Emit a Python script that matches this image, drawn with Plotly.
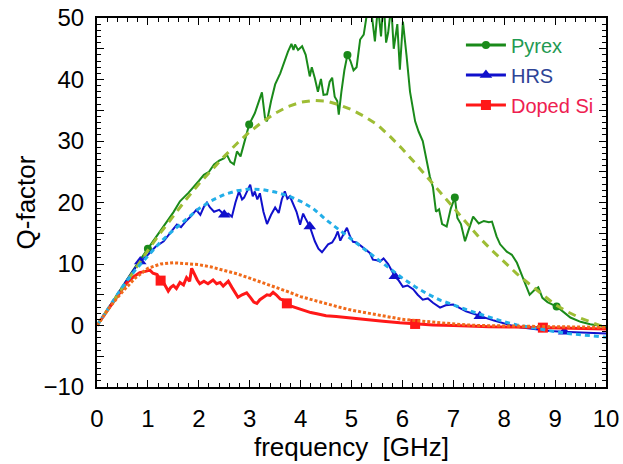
import plotly.graph_objects as go

# ---------------- data ----------------
pyrex_f = [0, 0.25, 0.5, 0.75, 1.0, 1.25, 1.5, 1.63, 1.8, 2.0, 2.1, 2.2, 2.3, 2.4, 2.5, 2.55, 2.62, 2.69,
           2.75, 2.82, 2.9, 2.99, 3.1, 3.18, 3.24, 3.3, 3.34, 3.42, 3.5, 3.6, 3.68, 3.75, 3.82, 3.86, 3.89,
           3.95, 4.03, 4.1, 4.18, 4.22, 4.28, 4.34, 4.4, 4.45, 4.52, 4.57, 4.62, 4.67, 4.72, 4.75, 4.8, 4.86,
           4.92, 4.98, 5.04, 5.1, 5.17, 5.24, 5.3, 5.36, 5.42, 5.46, 5.52, 5.58, 5.63, 5.68, 5.72, 5.78, 5.83,
           5.9, 5.95, 6.01, 6.08, 6.15, 6.25, 6.32, 6.4, 6.47, 6.54, 6.6, 6.66, 6.72, 6.78, 6.87, 6.95, 7.03,
           7.08, 7.15, 7.23, 7.3, 7.39, 7.5, 7.6, 7.7, 7.76, 7.85, 7.92, 8.05, 8.15, 8.25, 8.35, 8.5, 8.6,
           8.67, 8.75, 8.85, 8.95, 9.03, 9.15, 9.3, 9.5, 9.69, 9.85, 10.0]
pyrex_q = [0, 3.2, 6.3, 9.5, 12.5, 15.4, 18.4, 20.2, 21.6, 23.5, 24.5, 25.0, 26.2, 26.8, 27.2, 27.8, 26.6, 26.2,
           28.3, 27.5, 30.0, 32.7, 34.5, 36.4, 37.9, 33.8, 33.2, 36.5, 39.2, 41.0, 43.0, 44.5, 45.8, 44.8, 45.7,
           44.8, 45.4, 44.0, 40.5, 42.0, 40.2, 38.0, 40.1, 37.5, 37.6, 39.6, 40.3, 37.2, 36.5, 34.3, 37.9, 41.5,
           44.0, 43.0, 41.5, 42.0, 46.5, 47.3, 50.5, 53.0, 49.0, 46.2, 52.0, 47.0, 53.0, 46.0, 47.6, 52.0, 45.0,
           49.0, 41.6, 49.4, 44.0, 38.0, 33.2, 31.5, 30.0, 27.0, 24.2, 22.5, 18.5, 18.9, 16.5, 16.1, 19.0, 20.8,
           17.5, 16.5, 13.7, 15.5, 17.7, 16.6, 17.0, 16.8, 16.9, 14.5, 13.2, 12.0, 11.5, 10.2, 8.0, 5.0, 5.8,
           6.2, 4.5, 3.8, 3.4, 3.1, 2.3, 1.3, 0.6, 0.2, 0.0, -0.3]

hrs_f = [0, 0.25, 0.5, 0.7, 0.85, 1.0, 1.15, 1.31, 1.45, 1.57, 1.65, 1.75, 1.85, 1.95, 2.03, 2.1, 2.16, 2.22,
         2.3, 2.4, 2.5, 2.58, 2.65, 2.72, 2.79, 2.85, 2.89, 2.95, 3.01, 3.06, 3.1, 3.15, 3.2, 3.27, 3.34, 3.42,
         3.5, 3.57, 3.63, 3.69, 3.74, 3.79, 3.85, 3.92, 3.99, 4.05, 4.09, 4.18, 4.28, 4.35, 4.42, 4.48, 4.54,
         4.62, 4.68, 4.73, 4.78, 4.84, 4.91, 4.97, 5.03, 5.1, 5.17, 5.23, 5.3, 5.36, 5.42, 5.5, 5.56, 5.63,
         5.72, 5.8, 5.85, 5.92, 6.01, 6.1, 6.21, 6.3, 6.4, 6.5, 6.6, 6.74, 6.85, 7.0, 7.1, 7.25, 7.4, 7.52,
         7.65, 7.8, 7.92, 8.1, 8.31, 8.5, 8.7, 8.9, 9.15, 9.4, 9.7, 10.0]
hrs_q = [0, 3.2, 6.2, 8.8, 10.4, 11.5, 12.8, 13.7, 15.2, 16.4, 16.0, 17.0, 17.8, 18.8, 18.0, 19.3, 20.0, 19.2,
         18.5, 18.8, 18.0, 18.2, 17.7, 20.0, 21.8, 20.5, 20.8, 22.0, 22.9, 21.0, 21.8, 20.5, 21.5, 18.5, 16.5, 18.0,
         19.2, 18.3, 20.5, 21.8, 20.6, 21.0, 19.7, 18.5, 16.4, 18.2, 17.5, 16.1, 13.7, 12.5, 11.9, 12.6, 13.2,
         13.5, 14.3, 15.3, 13.8, 14.8, 15.9, 14.5, 13.6, 13.5, 13.0, 12.7, 12.2, 11.8, 10.7, 10.6, 10.4, 10.9,
         10.0, 8.6, 8.0, 7.4, 6.3, 6.5, 5.9, 5.0, 4.2, 4.4, 3.7, 2.9, 3.3, 3.4, 3.0, 2.3, 1.9, 1.5,
         1.2, 0.8, 0.5, 0.1, -0.3, -0.5, -0.7, -0.9, -1.0, -1.1, -1.2, -1.3]

si_f = [0, 0.25, 0.5, 0.59, 0.7, 0.84, 0.95, 1.04, 1.1, 1.18, 1.25, 1.32, 1.4, 1.45, 1.5, 1.56, 1.63, 1.7,
        1.76, 1.82, 1.86, 1.92, 1.97, 2.02, 2.1, 2.18, 2.28, 2.35, 2.42, 2.48, 2.58, 2.65, 2.72, 2.77, 2.85,
        2.94, 3.02, 3.08, 3.14, 3.2, 3.27, 3.34, 3.4, 3.46, 3.52, 3.6, 3.67, 3.73, 3.8, 3.9, 3.99, 4.1, 4.2,
        4.32, 4.5, 4.7, 4.97, 5.3, 5.62, 5.95, 6.25, 6.6, 7.0, 7.27, 7.7, 8.2, 8.76, 9.3, 10.0]
si_q = [0, 3.0, 5.8, 7.0, 7.8, 8.6, 8.8, 9.0, 8.5, 8.3, 7.3, 6.8, 5.6, 6.2, 6.5, 6.0, 7.0, 6.6,
        7.8, 7.2, 9.3, 8.2, 7.4, 6.8, 7.2, 6.8, 7.4, 6.8, 7.0, 6.4, 7.2, 6.2, 5.3, 4.6, 5.0,
        5.3, 4.5, 3.8, 3.6, 4.2, 4.6, 5.0, 4.9, 5.4, 5.0, 4.3, 4.1, 3.6, 3.2, 2.9, 2.7, 2.4, 2.1,
        1.9, 1.6, 1.45, 1.2, 0.95, 0.7, 0.45, 0.25, 0.1, 0.0, -0.1, -0.2, -0.25, -0.35, -0.45, -0.55]

# markers on measured curves
pyrex_mf = [1.0, 2.99, 4.92, 7.03, 9.03]
pyrex_mq = [12.5, 32.7, 44.0, 20.8, 3.1]
hrs_mf = [0.85, 2.5, 4.18, 5.85, 7.52, 9.18]
hrs_mq = [10.4, 18.0, 16.1, 8.0, 1.5, -1.0]
si_mf = [1.25, 3.73, 6.25, 8.76]
si_mq = [7.3, 3.6, 0.25, -0.35]

# model (fit) curves
fit_f = [0, 0.25, 0.5, 0.75, 1.0, 1.25, 1.5, 1.75, 2.0, 2.25, 2.5, 2.75, 3.0, 3.25, 3.5, 3.75, 4.0, 4.25,
         4.5, 4.75, 5.0, 5.25, 5.5, 5.75, 6.0, 6.25, 6.5, 6.75, 7.0, 7.25, 7.5, 7.75, 8.0, 8.25, 8.5, 8.75,
         9.0, 9.25, 9.5, 9.75, 10.0]
pyrex_fit = [0, 3.1, 6.2, 9.2, 12.2, 15.1, 17.8, 20.5, 23.0, 25.3, 27.5, 29.6, 31.5, 33.1, 34.5, 35.6, 36.3, 36.6,
             36.5, 35.9, 35.1, 34.0, 32.7, 30.8, 28.7, 26.4, 24.0, 21.6, 19.2, 16.8, 14.4, 12.3, 10.3, 8.4, 6.7, 5.0,
             3.4, 2.2, 1.2, 0.4, -0.4]
hrs_fit = [0, 3.2, 6.3, 9.0, 11.3, 13.6, 15.5, 17.3, 19.0, 20.3, 21.3, 21.9, 22.2, 22.1, 21.7, 21.1, 20.2, 19.0,
           17.2, 15.6, 14.0, 12.4, 10.8, 9.2, 7.7, 6.3, 5.1, 4.1, 3.3, 2.6, 1.9, 1.2, 0.6, 0.1, -0.3, -0.7,
           -1.0, -1.3, -1.5, -1.7, -1.9]
si_fit = [0, 3.0, 5.5, 7.7, 9.3, 10.0, 10.2, 10.1, 9.9, 9.5, 9.0, 8.4, 7.7, 7.0, 6.3, 5.5, 4.7, 4.1,
          3.5, 3.0, 2.5, 2.1, 1.7, 1.35, 1.0, 0.8, 0.6, 0.4, 0.2, 0.1, 0.0, -0.05, -0.1, -0.12, -0.15, -0.18,
          -0.2, -0.22, -0.25, -0.28, -0.3]

names = ["Pyrex", "HRS", "Doped Si"]
y_tickvals = [-10, 0, 10, 20, 30, 40, 50]
x_tickvals = [0, 1, 2, 3, 4, 5, 6, 7, 8, 9, 10]

# ---------------- styles ----------------
FONT = "Liberation Sans, Arial, Helvetica, sans-serif"
c_py, c_hrs, c_si = "#1a8a1a", "#1010cc", "#ff1818"
c_pyfit, c_hrsfit, c_sifit = "#9ebd35", "#22aee8", "#f06a1a"
txt_cols = ["#1f9a52", "#2e4496", "#ee2050"]

fig = go.Figure()

series = [
    (pyrex_f, pyrex_q, pyrex_mf, pyrex_mq, c_py, 2, "circle", 8),
    (hrs_f, hrs_q, hrs_mf, hrs_mq, c_hrs, 2, "triangle-up", 11),
    (si_f, si_q, si_mf, si_mq, c_si, 3, "square", 10),
]
for i, (f, q, mf, mq, col, lw, sym, ms) in enumerate(series):
    fig.add_trace(go.Scatter(x=f, y=q, mode="lines", line=dict(color=col, width=lw),
                             showlegend=False, hoverinfo="skip"))
    fig.add_trace(go.Scatter(x=mf, y=mq, mode="markers",
                             marker=dict(color=col, symbol=sym, size=ms), showlegend=False,
                             cliponaxis=True))

fits = [(pyrex_fit, c_pyfit, "8px,6px"), (hrs_fit, c_hrsfit, "5px,4px"), (si_fit, c_sifit, "3px,2px")]
for vals, col, dash in fits:
    fig.add_trace(go.Scatter(x=fit_f, y=vals, mode="lines", line=dict(color=col, width=3, dash=dash),
                             showlegend=False, hoverinfo="skip"))

# legend entries
for i, (f, q, mf, mq, col, lw, sym, ms) in enumerate(series):
    fig.add_trace(go.Scatter(x=[None], y=[None], mode="lines+markers",
                             line=dict(color=col, width=3), marker=dict(color=col, symbol=sym, size=ms),
                             name=f'<span style="color:{txt_cols[i]}">{names[i]}</span>',
                             legendgroup=f"g{i}"))

# main axes: labels only, transparent outside ticks push labels away from the frame
lab_common = dict(showline=False, ticks="outside", tickcolor="rgba(0,0,0,0)",
                  automargin=False, tickfont=dict(family=FONT, size=24, color="black"),
                  showgrid=False, zeroline=False)
# overlay axes: frame + inside ticks, no labels
frame_common = dict(showline=True, linecolor="black", linewidth=2, mirror="allticks", ticks="inside",
                    tickcolor="black", ticklen=7, showticklabels=False,
                    gridcolor="rgba(0,0,0,0)", zerolinecolor="rgba(0,0,0,0)")

fig.update_layout(
    width=623, height=464,
    margin=dict(l=97, r=17, t=18, b=77),
    paper_bgcolor="white", plot_bgcolor="white",
    font=dict(family=FONT, color="black"),
    xaxis=dict(range=[0, 10], tickmode="array", tickvals=x_tickvals, ticklen=10,
               title=dict(text="frequency  [GHz]", font=dict(family=FONT, size=26), standoff=2),
               **lab_common),
    yaxis=dict(range=[-10, 50], tickmode="array", tickvals=y_tickvals, ticklen=7,
               title=dict(text="Q-factor", font=dict(family=FONT, size=26), standoff=0),
               **lab_common),
    xaxis2=dict(range=[0, 10], overlaying="x", anchor="y2", side="bottom", dtick=1,
                minor=dict(dtick=0.2, ticklen=4, tickcolor="black", ticks="inside"),
                **frame_common),
    yaxis2=dict(range=[-10, 50], overlaying="y", anchor="x2", side="left", dtick=5,
                minor=dict(dtick=1, ticklen=4, tickcolor="black", ticks="inside"),
                **frame_common),
    legend=dict(x=0.715, y=0.98, xanchor="left", yanchor="top", bgcolor="rgba(0,0,0,0)",
                font=dict(family=FONT, size=20), tracegroupgap=1, itemwidth=40),
)

# an invisible trace so the overlay axes are drawn
fig.add_trace(go.Scatter(x=[None], y=[None], xaxis="x2", yaxis="y2", showlegend=False, hoverinfo="skip"))

fig.write_html("out.html")
